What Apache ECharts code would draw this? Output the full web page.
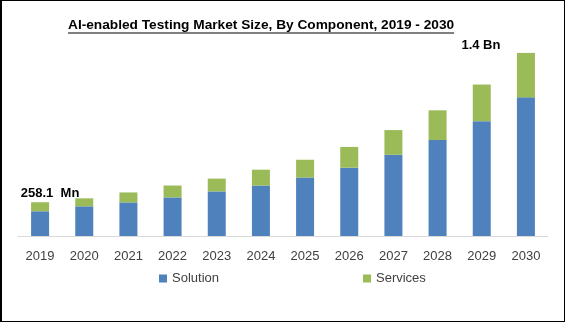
<!DOCTYPE html>
<html>
<head>
<meta charset="utf-8">
<script src="https://cdn.jsdelivr.net/npm/echarts@6/dist/echarts.min.js"></script>
<style>
  html, body { margin: 0; padding: 0; background: #fff; }
  #chart {
    width: 565px; height: 322px; box-sizing: border-box;
    border: 1px solid #000; border-left-width: 2px; background: #fff;
  }
</style>
</head>
<body>
<div id="chart"></div>
<script>
// Market size in USD million, by component
const years = ['2019', '2020', '2021', '2022', '2023', '2024', '2025', '2026', '2027', '2028', '2029', '2030'];
const solution = [189, 227, 257, 295, 341, 386, 447, 522, 621, 734, 878, 1060];
const services = [69.1, 61, 76, 91, 98, 121, 136, 159, 189, 227, 280, 340];

const titleText = 'AI-enabled Testing Market Size, By Component, 2019 - 2030';
const titleFamily = '"Liberation Sans", Arial, sans-serif';
const titleSize = 13.7;
const labelFont = '"Liberation Sans", Arial, sans-serif';

function totalLabel(i) {
  const t = solution[i] + services[i];
  return t >= 1000 ? (t / 1000).toFixed(1) + ' Bn' : t.toFixed(1) + '  Mn';
}

// width of the title, used for its underline
const ctx = document.createElement('canvas').getContext('2d');
ctx.font = 'bold ' + titleSize + 'px ' + titleFamily;
const titleW = ctx.measureText(titleText).width;
const titleLeft = 68;

const last = years.length - 1;
const servicesData = services.map((v, i) => {
  if (i === 0) {
    return { value: v, label: { show: true, formatter: totalLabel(0), offset: [10, 2] } };
  }
  if (i === last) {
    return { value: v, label: { show: true, formatter: totalLabel(last), offset: [-45, 3] } };
  }
  return v;
});

const chart = echarts.init(document.getElementById('chart'), null, { renderer: 'canvas' });
chart.setOption({
  animation: false,
  title: {
    text: titleText,
    left: titleLeft - 2,
    top: 17,
    padding: 0,
    textStyle: {
      fontFamily: titleFamily,
      fontSize: titleSize, fontWeight: 'bold', color: '#000'
    }
  },
  graphic: [{
    type: 'line',
    shape: { x1: titleLeft - 2, y1: 32, x2: titleLeft - 2 + titleW, y2: 32 },
    style: { stroke: '#000', lineWidth: 1 }
  }],
  legend: {
    left: 152,
    top: 266,
    itemWidth: 8,
    itemHeight: 8,
    itemGap: 144,
    icon: 'rect',
    textStyle: { fontFamily: labelFont, fontSize: 13, color: '#404040' },
    data: ['Solution', 'Services']
  },
  grid: { left: 16, right: 16, top: 40, bottom: 85 },
  xAxis: {
    type: 'category',
    data: years,
    axisLine: { lineStyle: { color: '#d9d9d9', width: 1 } },
    axisTick: { show: false },
    axisLabel: { fontFamily: labelFont, fontSize: 13, color: '#404040', margin: 14 }
  },
  yAxis: {
    type: 'value',
    min: 0,
    max: 1491,
    show: false,
    splitLine: { show: false }
  },
  series: [
    {
      name: 'Solution', type: 'bar', stack: 'total', barWidth: 18,
      itemStyle: { color: '#4f81bd' },
      data: solution
    },
    {
      name: 'Services', type: 'bar', stack: 'total', barWidth: 18,
      itemStyle: { color: '#9bbb59' },
      label: {
        show: false, position: 'top', distance: 4,
        fontFamily: labelFont, fontSize: 13, fontWeight: 'bold', color: '#000'
      },
      data: servicesData
    }
  ]
});
</script>
</body>
</html>
